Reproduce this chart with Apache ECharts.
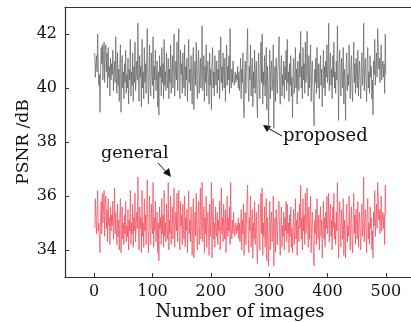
<!DOCTYPE html>
<html>
<head>
<meta charset="utf-8">
<script src="https://cdn.jsdelivr.net/npm/echarts@6/dist/echarts.min.js"></script>
<style>html,body{margin:0;padding:0;background:#fff}#c{width:411px;height:322px}</style>
</head>
<body>
<div id="c"></div>
<script>
const xTicks = [0, 100, 200, 300, 400, 500];
const yTicks = [34, 36, 38, 40, 42];
const proposed = [
41.3,40.4,40.9,41.2,40.6,42.0,40.8,40.1,40.5,39.1,40.7,41.5,40.9,41.6,40.3,41.2,41.7,40.2,41.4,41.6,40.6,41.3,40.0,41.5,40.4,
40.8,39.7,41.1,40.3,40.9,40.5,41.4,39.9,40.6,41.0,40.2,41.9,40.4,39.8,41.3,40.1,40.7,39.5,40.9,41.6,39.1,40.4,41.2,40.0,40.6,
39.6,40.9,40.2,41.4,39.8,40.5,40.0,41.1,39.4,40.7,40.3,41.8,39.7,40.6,40.1,41.3,39.5,40.8,40.2,41.7,39.9,40.4,41.0,40.3,42.4,
40.1,39.5,41.2,40.4,40.8,39.3,41.8,40.0,40.6,39.6,41.5,40.2,40.9,39.8,41.1,42.2,40.3,39.4,40.7,41.6,40.0,39.7,41.3,40.5,40.1,
41.9,39.6,40.8,40.3,41.4,39.9,40.5,41.0,39.3,40.6,39.0,41.2,40.4,40.8,39.7,41.5,40.2,40.9,39.6,41.8,40.1,40.6,39.9,41.3,40.4,
40.0,41.1,39.6,40.7,40.2,41.6,39.8,40.5,41.2,40.0,40.8,42.0,39.7,40.4,41.0,40.3,41.7,39.9,40.6,42.2,40.1,39.6,41.4,40.5,40.9,
39.8,41.3,40.4,40.0,41.6,39.7,40.8,40.3,41.1,39.5,40.6,41.8,40.2,40.7,39.9,41.2,40.5,39.4,40.9,41.5,39.2,40.6,41.0,40.1,41.7,
40.3,39.6,40.9,41.4,39.8,40.5,41.1,40.0,40.7,42.3,39.9,40.4,41.2,39.5,40.8,40.2,41.6,39.7,40.6,41.0,40.3,39.4,41.3,40.1,40.7,
39.2,40.9,41.5,40.0,40.6,39.7,41.2,40.4,40.1,41.0,39.8,40.7,40.3,41.4,39.6,40.5,41.9,40.2,40.8,39.9,41.3,40.4,40.0,41.1,39.5,
40.6,41.6,40.1,40.8,40.3,41.2,39.8,42.2,40.4,40.0,40.7,40.2,41.0,40.5,40.1,40.4,40.6,40.2,40.5,40.3,40.8,40.0,40.6,39.9,40.4,
41.1,39.6,40.7,40.2,41.3,39.4,38.9,40.5,41.0,39.8,40.6,41.5,42.2,40.1,39.5,40.8,40.3,41.6,39.7,40.4,41.1,39.3,40.6,40.0,41.4,
39.8,40.5,41.0,39.5,38.9,40.7,41.3,40.0,39.6,40.9,41.7,40.2,42.0,39.4,40.6,40.1,41.2,39.7,40.4,41.5,39.2,40.8,40.0,38.5,40.3,
41.4,39.6,40.7,41.0,39.9,40.3,41.6,38.5,40.2,40.8,39.5,41.1,40.4,39.8,40.6,41.3,41.9,40.0,39.4,40.7,41.2,39.7,40.5,40.1,41.0,
39.6,40.8,40.3,41.4,39.9,41.8,40.2,40.6,39.5,40.9,40.1,41.2,39.7,40.4,38.9,40.6,41.1,39.8,40.3,41.5,40.0,40.7,39.4,41.0,40.5,
39.9,41.3,40.4,42.1,40.0,40.8,39.6,41.5,40.3,40.9,39.8,41.7,40.2,40.6,42.1,40.4,39.7,41.2,40.0,40.8,41.6,39.5,40.5,41.0,40.1,
39.3,38.6,40.7,40.2,41.1,39.8,41.5,40.4,40.0,40.9,39.6,40.5,41.2,40.1,40.7,39.3,40.3,41.4,40.0,40.8,39.7,41.0,40.4,41.6,40.2,
40.6,42.4,39.9,40.8,41.3,40.1,40.7,39.6,41.2,40.4,41.7,40.0,40.6,39.8,41.0,40.3,42.3,40.5,38.8,40.9,41.4,40.2,39.7,41.1,40.6,
40.0,41.5,39.4,40.7,40.3,38.8,40.9,41.3,39.9,40.5,40.1,41.6,40.4,39.6,40.8,41.2,40.0,39.5,40.6,41.7,40.2,40.9,39.8,41.1,40.4,
40.0,41.4,39.7,40.6,41.0,40.2,39.6,40.8,41.3,40.1,40.5,42.4,39.9,40.7,41.1,40.3,39.5,40.9,41.5,40.0,40.6,39.8,41.2,40.4,40.8,
39.6,40.3,39.0,41.0,40.5,41.8,40.1,40.8,41.3,40.4,42.2,41.5,40.7,41.1,40.2,40.9,41.6,40.3,40.8,41.0,40.4,40.9,39.8,42.0,40.5
];
const general = [
34.8,35.9,35.2,34.6,35.4,36.2,34.7,35.0,34.4,33.9,35.3,35.8,34.6,36.1,35.0,35.6,36.2,34.5,35.7,36.0,34.8,35.5,34.3,35.9,34.9,
35.2,34.2,35.6,34.7,35.3,34.9,35.8,34.4,35.1,36.3,34.6,35.4,34.8,34.2,35.7,34.5,35.1,34.0,35.3,35.9,33.9,34.8,35.6,34.4,35.0,
34.2,35.3,34.6,35.8,34.3,34.9,34.5,35.5,34.0,35.1,34.7,36.2,34.2,35.0,34.6,35.7,34.1,35.2,34.7,36.1,34.3,34.9,35.4,34.8,36.7,
34.6,34.0,35.6,34.8,35.2,33.9,36.2,34.5,35.0,34.1,35.9,34.7,35.3,34.2,35.5,36.6,34.8,33.9,35.1,36.0,34.5,34.2,35.7,34.9,34.6,
36.5,34.1,35.2,34.7,35.8,34.3,34.9,35.4,33.9,35.0,33.6,35.6,34.8,35.2,34.2,35.9,34.6,35.3,34.1,36.2,34.5,35.0,34.3,35.7,34.8,
34.4,36.5,34.0,35.1,34.6,36.0,34.2,34.9,35.6,34.4,35.2,36.3,34.1,34.8,35.4,34.7,36.1,34.3,35.0,36.2,34.5,34.0,35.8,34.9,35.3,
34.2,35.7,34.8,34.4,36.0,34.1,35.2,34.7,35.5,33.9,35.0,36.2,34.6,35.1,34.3,35.6,34.9,33.8,35.3,35.9,33.7,35.0,35.4,34.5,36.1,
34.7,34.0,35.3,35.8,34.2,34.9,36.3,34.4,35.1,36.5,34.3,34.8,35.6,33.9,35.2,34.6,36.0,34.1,35.0,35.4,34.7,33.8,35.7,34.5,35.1,
36.5,33.7,35.3,35.9,34.4,35.0,34.1,35.6,34.8,34.5,35.4,34.2,35.1,34.7,35.8,34.0,34.9,36.3,34.6,35.2,34.3,35.7,34.8,34.4,35.5,
33.9,35.0,36.0,34.5,35.2,34.7,35.6,34.2,36.5,34.8,34.4,35.1,34.6,35.4,34.9,34.5,34.8,35.0,34.6,34.9,34.7,35.2,34.4,35.0,34.3,
34.8,35.5,34.0,35.1,34.6,35.7,33.8,34.9,35.4,34.2,35.0,35.9,36.4,34.5,33.9,35.2,34.7,36.0,34.1,34.8,35.5,33.7,35.0,34.4,35.8,
34.2,34.9,35.4,33.9,33.5,35.1,35.7,34.4,34.0,35.3,36.1,34.6,36.3,33.8,35.0,34.5,35.6,34.1,34.8,35.9,33.6,35.2,34.4,33.4,34.7,
35.8,34.0,35.1,35.4,34.3,34.7,36.0,33.4,34.6,35.2,33.9,35.5,34.8,34.2,35.0,35.7,35.8,34.4,33.8,35.1,35.6,34.1,34.9,34.5,35.4,
34.0,35.2,34.7,35.8,34.3,35.7,34.6,35.0,33.9,35.3,34.5,35.6,34.1,34.8,33.9,35.0,35.5,34.2,34.7,35.9,34.4,35.1,33.8,35.4,34.9,
34.3,35.7,34.8,36.4,34.4,35.2,34.0,35.9,34.7,35.3,34.2,36.1,34.6,35.0,36.3,34.8,34.1,35.6,34.4,35.2,36.0,33.9,34.9,35.4,34.5,
33.7,33.4,35.1,34.6,35.5,34.2,35.9,34.8,34.4,35.3,34.0,34.9,35.6,34.5,35.1,33.7,34.7,35.8,34.4,35.2,34.1,35.4,34.8,36.0,34.6,
35.0,36.1,34.3,35.2,35.7,34.5,35.1,34.0,35.6,34.8,36.1,34.4,35.0,34.2,35.4,34.7,36.5,34.9,33.7,35.3,35.8,34.6,34.1,35.5,35.0,
34.4,35.9,33.8,35.1,34.7,33.7,35.3,35.7,34.3,34.9,34.5,36.0,34.8,34.0,35.2,35.6,34.4,33.9,35.0,36.1,34.6,35.3,34.2,35.5,34.8,
34.4,35.8,34.1,35.0,35.4,34.6,34.0,35.2,35.7,34.5,34.9,36.7,34.3,35.1,35.5,34.7,33.9,35.3,35.9,34.4,35.0,34.2,35.6,34.8,35.2,
34.0,34.7,33.7,35.4,34.9,36.2,34.5,35.2,35.7,34.8,36.5,35.9,35.1,35.5,34.6,35.3,36.0,34.7,35.2,35.4,34.8,35.3,34.2,36.4,35.3
];
const seriesNames = ['proposed', 'general'];
const xName = 'Number of images';
const yName = 'PSNR /dB';

const toPairs = arr => arr.map((v, i) => [i + 1, v]);
const FONT = 'DejaVu Serif';
const AX = '#333';
const chart = echarts.init(document.getElementById('c'), null, {renderer: 'canvas'});
chart.setOption({
  animation: false,
  backgroundColor: '#fff',
  grid: {left: 65, top: 7, right: -4, bottom: 45, show: false, outerBoundsMode: 'none', containLabel: false},
  xAxis: [{
    type: 'value', min: -50, max: 550,
    name: xName, nameLocation: 'middle', nameGap: 26, nameMoveOverlap: false,
    nameTextStyle: {fontFamily: FONT, fontSize: 18, color: '#111'},
    axisLine: {show: true, onZero: false, lineStyle: {color: AX, width: 1.2}},
    axisTick: {show: true, inside: true, length: 4, customValues: xTicks, lineStyle: {color: AX}},
    axisLabel: {customValues: xTicks, fontFamily: FONT, fontSize: 16, color: '#111', margin: 7},
    splitLine: {show: false}
  }, {
    type: 'value', min: -50, max: 550, position: 'top',
    axisLine: {show: true, onZero: false, lineStyle: {color: AX, width: 1.2}},
    axisTick: {show: false}, axisLabel: {show: false}, splitLine: {show: false}
  }],
  yAxis: {
    type: 'value', min: 33, max: 43,
    name: yName, nameLocation: 'middle', nameGap: 33, nameMoveOverlap: false,
    nameTextStyle: {fontFamily: FONT, fontSize: 17, color: '#111'},
    axisLine: {show: true, onZero: false, lineStyle: {color: AX, width: 1.2}},
    axisTick: {show: true, inside: true, length: 4, customValues: yTicks, lineStyle: {color: AX}},
    axisLabel: {customValues: yTicks, fontFamily: FONT, fontSize: 16, color: '#111', margin: 8},
    splitLine: {show: false}
  },
  series: [
    {name: seriesNames[0], type: 'line', data: toPairs(proposed), showSymbol: false,
     lineStyle: {color: '#606060', width: 0.7}},
    {name: seriesNames[1], type: 'line', data: toPairs(general), showSymbol: false,
     lineStyle: {color: '#f04858', width: 0.7}}
  ],
  graphic: [
    {type: 'text', left: 283, top: 127, style: {text: 'proposed', font: '18px "DejaVu Serif"', fill: '#111'}},
    {type: 'text', left: 101, top: 144, style: {text: 'general', font: '17.5px "DejaVu Serif"', fill: '#111'}},
    {type: 'line', shape: {x1: 282, y1: 136, x2: 266, y2: 127}, style: {stroke: '#111', lineWidth: 1}},
    {type: 'polygon', shape: {points: [[263, 125], [271, 126], [267, 132]]}, style: {fill: '#111'}},
    {type: 'line', shape: {x1: 158, y1: 163, x2: 168, y2: 174}, style: {stroke: '#111', lineWidth: 1}},
    {type: 'polygon', shape: {points: [[171, 177], [163, 173], [169, 168]]}, style: {fill: '#111'}}
  ]
});
</script>
</body>
</html>
